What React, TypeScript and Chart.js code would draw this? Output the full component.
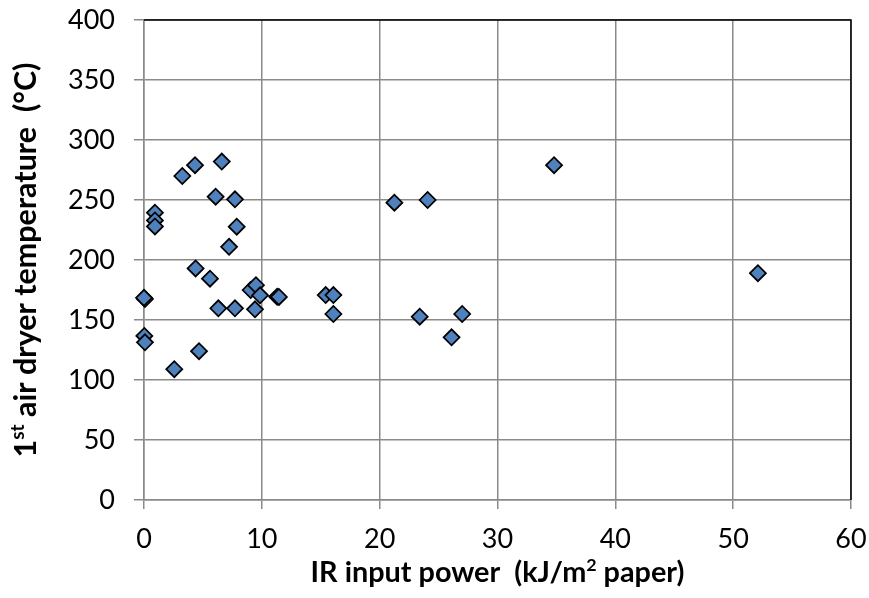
import React, { useEffect, useRef } from 'react';
import { Chart, registerables } from 'chart.js';

Chart.register(...registerables);

// IR input power (kJ/m² paper)
const irPower = [
  0.08, 0.0, 0.03, 0.08, 0.93, 0.93, 0.93, 2.57, 3.25, 4.33, 4.38, 4.67,
  5.6, 6.08, 6.31, 6.6, 7.22, 7.72, 7.87, 7.72, 9.05, 9.5, 9.42, 9.85,
  11.3, 11.45, 15.42, 16.07, 16.07, 21.25, 24.07, 23.4, 26.1, 27.0, 34.8, 52.1,
];
// 1st air dryer temperature (°C)
const dryerTemp = [
  167.5, 168.5, 136.7, 131.4, 239.4, 233, 228, 109, 270, 279, 193, 124,
  184.4, 252.8, 159.7, 282, 211, 250.6, 227.8, 159.7, 175, 179, 158.9, 170.6,
  169.4, 169.2, 170.8, 170.8, 155, 247.8, 250, 152.8, 135.6, 155, 279, 189,
];

const xTickValues = [0, 10, 20, 30, 40, 50, 60];
const yTickValues = [0, 50, 100, 150, 200, 250, 300, 350, 400];

const xTitleParts = [
  { text: 'IR input power  (kJ/m', sup: false },
  { text: '2', sup: true },
  { text: ' paper)', sup: false },
];
const yTitleParts = [
  { text: '1', sup: false },
  { text: 'st', sup: true },
  { text: ' air dryer temperature  (°C)', sup: false },
];

const FONT = 'Lato, "Open Sans", sans-serif';
const GRID = '#8a8a8a';

function drawRich(
  ctx: CanvasRenderingContext2D,
  parts: { text: string; sup: boolean }[],
  baseSize: number,
  targetWidth: number,
) {
  const measure = (size: number) => {
    const supSize = size * 0.62;
    return parts.map((p) => {
      ctx.font = `bold ${p.sup ? supSize : size}px ${FONT}`;
      return ctx.measureText(p.text).width;
    });
  };
  let widths = measure(baseSize);
  let total = widths.reduce((a, b) => a + b, 0);
  const size = Math.min(baseSize * 1.25, Math.max(baseSize * 0.8, baseSize * (targetWidth / total)));
  widths = measure(size);
  total = widths.reduce((a, b) => a + b, 0);
  const supSize = size * 0.62;
  let x = -total / 2;
  ctx.textAlign = 'left';
  ctx.textBaseline = 'alphabetic';
  ctx.fillStyle = '#000';
  parts.forEach((p, i) => {
    ctx.font = `bold ${p.sup ? supSize : size}px ${FONT}`;
    ctx.fillText(p.text, x, p.sup ? -size * 0.38 : 0);
    x += widths[i];
  });
}

const framePlugin = {
  id: 'frame',
  beforeDatasetsDraw(chart: any) {
    const ctx = chart.ctx as CanvasRenderingContext2D;
    const { left, right, top, bottom } = chart.chartArea;
    ctx.save();
    ctx.strokeStyle = '#000';
    ctx.lineWidth = 1.5;
    ctx.beginPath();
    ctx.moveTo(left, top);
    ctx.lineTo(right, top);
    ctx.lineTo(right, bottom);
    ctx.stroke();
    ctx.restore();
  },
  afterDraw(chart: any) {
    const ctx = chart.ctx as CanvasRenderingContext2D;
    const { left, right, top, bottom } = chart.chartArea;
    ctx.save();
    ctx.translate((left + right) / 2, 582);
    drawRich(ctx, xTitleParts, 27, 374);
    ctx.restore();
    ctx.save();
    ctx.translate(36, (top + bottom) / 2);
    ctx.rotate(-Math.PI / 2);
    drawRich(ctx, yTitleParts, 27, 395);
    ctx.restore();
  },
};

const zeroPadding = (s: any) => {
  s.paddingTop = 0;
  s.paddingBottom = 0;
  s.paddingLeft = 0;
  s.paddingRight = 0;
};

export default function App() {
  const ref = useRef<HTMLCanvasElement | null>(null);
  useEffect(() => {
    document.body.style.margin = '0';
    const canvas = ref.current;
    if (!canvas) return;
    const points = irPower.map((x, i) => ({ x, y: dryerTemp[i] }));
    const chart = new Chart(canvas, {
      type: 'scatter',
      data: {
        datasets: [
          {
            data: points,
            pointStyle: 'rectRot',
            pointRadius: 8,
            pointHoverRadius: 8,
            backgroundColor: '#4F81BD',
            borderColor: '#000',
            borderWidth: 1.75,
            clip: false,
          },
        ],
      },
      options: {
        animation: false,
        responsive: false,
        events: [],
        layout: { padding: { top: 20, right: 18, left: 0, bottom: 0 } },
        plugins: { legend: { display: false }, tooltip: { enabled: false } },
        scales: {
          x: {
            type: 'linear',
            min: xTickValues[0],
            max: xTickValues[xTickValues.length - 1],
            afterBuildTicks: (s: any) => {
              s.ticks = xTickValues.map((v) => ({ value: v }));
            },
            afterFit: (s: any) => {
              s.height = 98;
              zeroPadding(s);
            },
            grid: { color: GRID, lineWidth: 1.5, tickLength: 9 },
            border: { display: true, color: GRID, width: 1.5 },
            ticks: { font: { family: FONT, size: 27 }, color: '#000', padding: 14, maxRotation: 0 },
          },
          y: {
            type: 'linear',
            min: yTickValues[0],
            max: yTickValues[yTickValues.length - 1],
            afterBuildTicks: (s: any) => {
              s.ticks = yTickValues.map((v) => ({ value: v }));
            },
            afterFit: (s: any) => {
              s.width = 144;
              zeroPadding(s);
            },
            grid: { color: GRID, lineWidth: 1.5, tickLength: 10 },
            border: { display: true, color: GRID, width: 1.5 },
            ticks: { font: { family: FONT, size: 27 }, color: '#000', padding: 19 },
          },
        },
      },
      plugins: [framePlugin],
    });
    return () => chart.destroy();
  }, []);
  return (
    <div style={{ width: 869, height: 598, background: '#fff' }}>
      <canvas ref={ref} width={869} height={598} style={{ display: 'block' }} />
    </div>
  );
}
